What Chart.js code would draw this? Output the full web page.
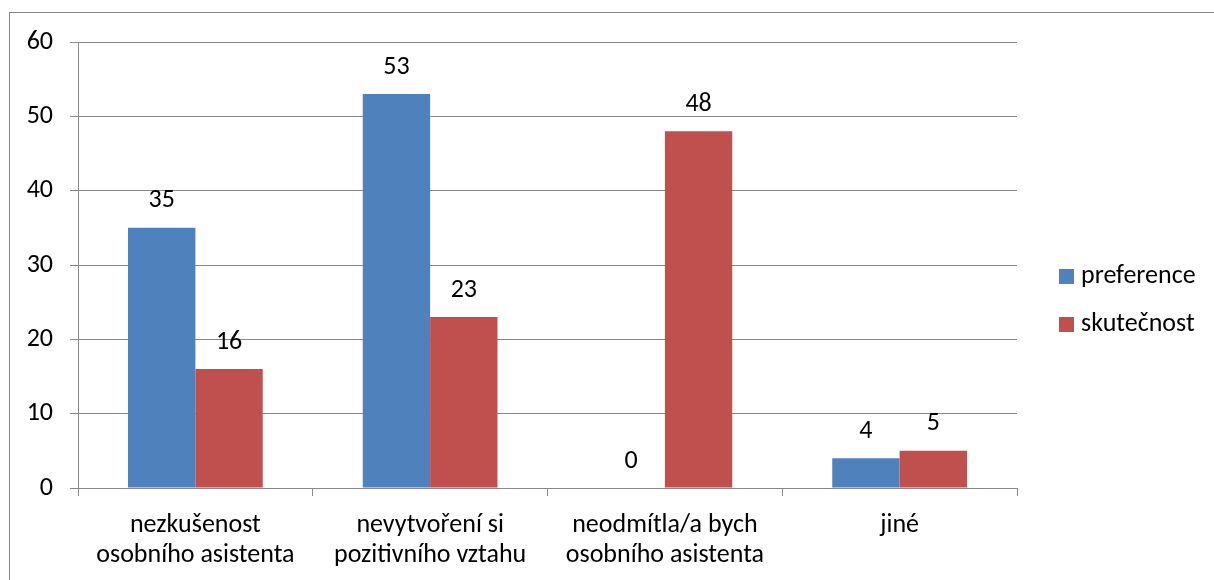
<!DOCTYPE html>
<html>
<head>
<meta charset="utf-8">
<style>
  html, body { margin: 0; padding: 0; background: #fff; }
  #wrap { width: 1214px; height: 580px; position: relative; }
</style>
<script src="https://cdn.jsdelivr.net/npm/chart.js@4/dist/chart.umd.min.js"></script>
</head>
<body>
<div id="wrap"><canvas id="c" width="1214" height="580"></canvas></div>
<script>
// Categories (multi-line labels) and series
const categories = [
  ['nezkušenost', 'osobního asistenta'],
  ['nevytvoření si', 'pozitivního vztahu'],
  ['neodmítla/a bych', 'osobního asistenta'],
  ['jiné']
];
const preference = [35, 53, 0, 4];
const skutecnost = [16, 23, 48, 5];
const seriesNames = ['preference', 'skutečnost'];
const yTicks = [0, 10, 20, 30, 40, 50, 60];

const FONT = 'Carlito, Calibri, Lato, sans-serif';
const FONT_SIZE = 26;
const GRID = '#888888';

// Outer frame around the whole chart
const framePlugin = {
  id: 'frame',
  beforeDraw(chart) {
    const ctx = chart.ctx;
    ctx.save();
    ctx.fillStyle = '#fff';
    ctx.fillRect(0, 0, chart.width, chart.height);
    ctx.strokeStyle = GRID;
    ctx.lineWidth = 1;
    ctx.strokeRect(9.5, 12.5, chart.width + 20, chart.height + 20);
    ctx.restore();
  }
};

// Value labels above each bar
const valueLabels = {
  id: 'valueLabels',
  afterDatasetsDraw(chart) {
    const ctx = chart.ctx;
    ctx.save();
    ctx.font = FONT_SIZE + 'px ' + FONT;
    ctx.fillStyle = '#000';
    ctx.textAlign = 'center';
    ctx.textBaseline = 'middle';
    chart.data.datasets.forEach((ds, i) => {
      const meta = chart.getDatasetMeta(i);
      meta.data.forEach((bar, j) => {
        ctx.fillText(String(ds.data[j]), bar.x, bar.y - 27);
      });
    });
    ctx.restore();
  }
};

// Legend on the right: square swatch + series name
const sideLegend = {
  id: 'sideLegend',
  afterDraw(chart) {
    const ctx = chart.ctx;
    ctx.save();
    ctx.font = FONT_SIZE + 'px ' + FONT;
    ctx.textAlign = 'left';
    ctx.textBaseline = 'middle';
    chart.data.datasets.forEach((ds, i) => {
      const cy = 276.5 + i * 48;
      ctx.fillStyle = ds.backgroundColor;
      ctx.fillRect(1059, cy - 7.5, 15, 15);
      ctx.fillStyle = '#000';
      ctx.fillText(ds.label, 1081, cy);
    });
    ctx.restore();
  }
};

new Chart(document.getElementById('c'), {
  type: 'bar',
  data: {
    labels: categories,
    datasets: [
      { label: seriesNames[0], data: preference, backgroundColor: '#4F81BD' },
      { label: seriesNames[1], data: skutecnost, backgroundColor: '#C0504D' }
    ]
  },
  options: {
    responsive: false,
    animation: false,
    devicePixelRatio: 1,
    layout: { padding: { top: 42, right: 197, left: 0, bottom: 0 } },
    datasets: {
      bar: { barPercentage: 1.0, categoryPercentage: 0.574 }
    },
    plugins: {
      legend: { display: false },
      tooltip: { enabled: false }
    },
    scales: {
      x: {
        grid: { display: true, drawOnChartArea: false, drawTicks: true, tickLength: 8, color: GRID, offset: true },
        border: { display: true, color: GRID, width: 1 },
        ticks: {
          color: '#000', padding: 14, maxRotation: 0, autoSkip: false,
          font: { family: FONT, size: FONT_SIZE, lineHeight: '30px' }
        },
        afterFit(scale) { scale.height = 92; }
      },
      y: {
        min: 0, max: 60,
        afterBuildTicks(scale) { scale.ticks = yTicks.map(v => ({ value: v })); },
        grid: { color: GRID, tickLength: 8, drawTicks: true },
        border: { display: true, color: GRID, width: 1 },
        ticks: {
          color: '#000', padding: 17,
          font: { family: FONT, size: FONT_SIZE }
        },
        afterFit(scale) { scale.width = 78; }
      }
    }
  },
  plugins: [framePlugin, valueLabels, sideLegend]
});
</script>
</body>
</html>
